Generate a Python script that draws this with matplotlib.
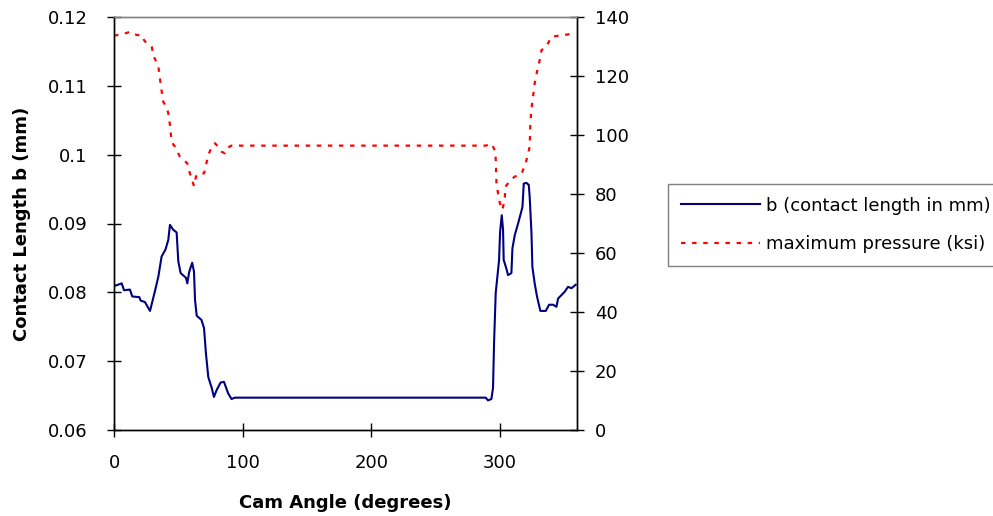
import matplotlib
matplotlib.use("Agg")
import matplotlib.pyplot as plt

plt.rcParams['font.family'] = ['DejaVu Sans']

# Contact length b (mm) vs cam angle
b_angle = [0, 6, 7.8, 12.4, 14.2, 19.7, 20.7, 24, 28, 32, 34.5, 37, 40, 42.2, 43.5, 46, 48.7,
           50, 51.8, 56, 57, 58.5, 60.8, 62.2, 63, 64.3, 68, 70, 71.5, 73.3, 76, 77.7, 79.8,
           82.9, 85.5, 88.8, 91.4, 94, 150, 200, 250, 289, 290.8, 293.4, 294.7, 295.5, 296.8,
           299.4, 300.2, 301.5, 302.5, 303, 305, 306.4, 309, 309.8, 311.6, 314.2, 317.6, 318.6,
           320.7, 322.5, 323.2, 324.6, 325.3, 327.1, 328.9, 331.5, 335.7, 338.3, 341.4, 344,
           345.3, 347.9, 350.5, 353, 355.7, 359]
b_values = [0.0809, 0.0813, 0.0803, 0.0804, 0.0794, 0.0793, 0.0788, 0.0786, 0.0773, 0.0803,
            0.0823, 0.0852, 0.0862, 0.0876, 0.0898, 0.0891, 0.0887, 0.0845, 0.0828, 0.0821,
            0.0813, 0.0830, 0.0843, 0.0830, 0.0789, 0.0766, 0.0760, 0.0748, 0.0711, 0.0677,
            0.0661, 0.0648, 0.0658, 0.0669, 0.0670, 0.0653, 0.0645, 0.0647, 0.0647, 0.0647,
            0.0647, 0.0647, 0.0643, 0.0645, 0.0661, 0.0726, 0.0799, 0.0847, 0.0888, 0.0912,
            0.0891, 0.0847, 0.0835, 0.0825, 0.0828, 0.0864, 0.0883, 0.0900, 0.0924, 0.0958,
            0.0959, 0.0956, 0.0939, 0.0886, 0.0837, 0.0813, 0.0794, 0.0773, 0.0773, 0.0782,
            0.0782, 0.0779, 0.0791, 0.0796, 0.0801, 0.0808, 0.0806, 0.0811]

# Maximum pressure (ksi) vs cam angle
p_angle = [0, 7.3, 12.4, 17.6, 21.5, 23.3, 25.4, 29.3, 31.1, 34.5, 35.7, 37.1, 38.3, 41, 42.2,
           43.5, 44.8, 47.4, 51.3, 57, 59, 62.2, 63.7, 65.5, 70, 71.5, 73.3, 76, 78.5, 81.1,
           83.7, 86.3, 88.8, 91.4, 150, 200, 250, 289, 293.7, 296.6, 297.4, 298.6, 300, 301.9,
           303.8, 304.3, 306.4, 309, 311.6, 316.8, 318, 320.1, 322, 323.2, 323.7, 324.5, 325.8,
           327.1, 328.9, 331, 332.4, 334.9, 337.5, 340.1, 346.5, 353, 359]
p_values = [133.7, 134.2, 135.0, 133.9, 133.9, 132.2, 131.1, 129.9, 126.5, 123.2, 119.2, 114.7,
            111.3, 109.1, 107.4, 103.4, 97.7, 96.0, 92.6, 90.4, 87.0, 82.7, 85.9, 87.0, 87.0,
            89.8, 93.2, 96.0, 97.2, 96.0, 94.3, 93.8, 95.8, 96.4, 96.4, 96.4, 96.4, 96.4, 97.0,
            94.3, 83.6, 80.2, 76.9, 74.6, 78.0, 82.5, 83.6, 85.0, 85.9, 86.8, 88.1, 90.4, 93.8,
            96.0, 104.0, 108.5, 113.0, 117.5, 121.5, 125.4, 128.8, 129.4, 131.1, 133.3, 133.7,
            134.1, 134.7]

x_ticks = [0, 100, 200, 300]
left_ticks = [0.06, 0.07, 0.08, 0.09, 0.1, 0.11, 0.12]
left_labels = ['0.06', '0.07', '0.08', '0.09', '0.1', '0.11', '0.12']
right_ticks = [0, 20, 40, 60, 80, 100, 120, 140]

W, H = 993, 516
fig = plt.figure(figsize=(W / 100, H / 100), dpi=100)
ax = fig.add_axes([114 / W, 1 - 430 / H, 463 / W, 413 / H])
ax2 = ax.twinx()

l1, = ax.plot(b_angle, b_values, color='#000080', lw=1.5, label='b (contact length in mm)')
l2, = ax2.plot(p_angle, p_values, color='#FF0000', lw=1.6, linestyle=(0, (2, 3)),
               label='maximum pressure (ksi)')

ax.set_xlim(0, 360)
ax.set_ylim(0.06, 0.12)
ax2.set_ylim(0, 140)
ax.set_xticks(x_ticks)
ax.set_xticklabels([str(t) for t in x_ticks])
ax.set_yticks(left_ticks)
ax.set_yticklabels(left_labels)
ax2.set_yticks(right_ticks)
ax2.set_yticklabels([str(t) for t in right_ticks])

FS = 13
for a in (ax, ax2):
    a.tick_params(direction='inout', length=10, width=1, labelsize=FS, colors='black')
    for s in a.spines.values():
        s.set_linewidth(1)
ax.spines['top'].set_color('#808080')
ax2.spines['top'].set_color('#808080')
ax.tick_params(axis='x', pad=12)
ax.tick_params(axis='y', pad=14)
ax2.tick_params(axis='y', pad=8)

ax.set_xlabel('Cam Angle (degrees)', fontsize=FS, fontweight='bold', labelpad=16)
ax.set_ylabel('Contact Length b (mm)', fontsize=FS, fontweight='bold', labelpad=12)

leg = fig.legend(handles=[l1, l2], loc='upper left',
                 bbox_to_anchor=(668 / W, 1 - 184 / H), fontsize=FS,
                 frameon=True, fancybox=False, edgecolor='#808080', framealpha=1,
                 handlelength=4.4, handletextpad=0.3, borderpad=0.7, labelspacing=1.15,
                 borderaxespad=0)
leg.get_frame().set_linewidth(1)

fig.savefig('out.png', dpi=100)
